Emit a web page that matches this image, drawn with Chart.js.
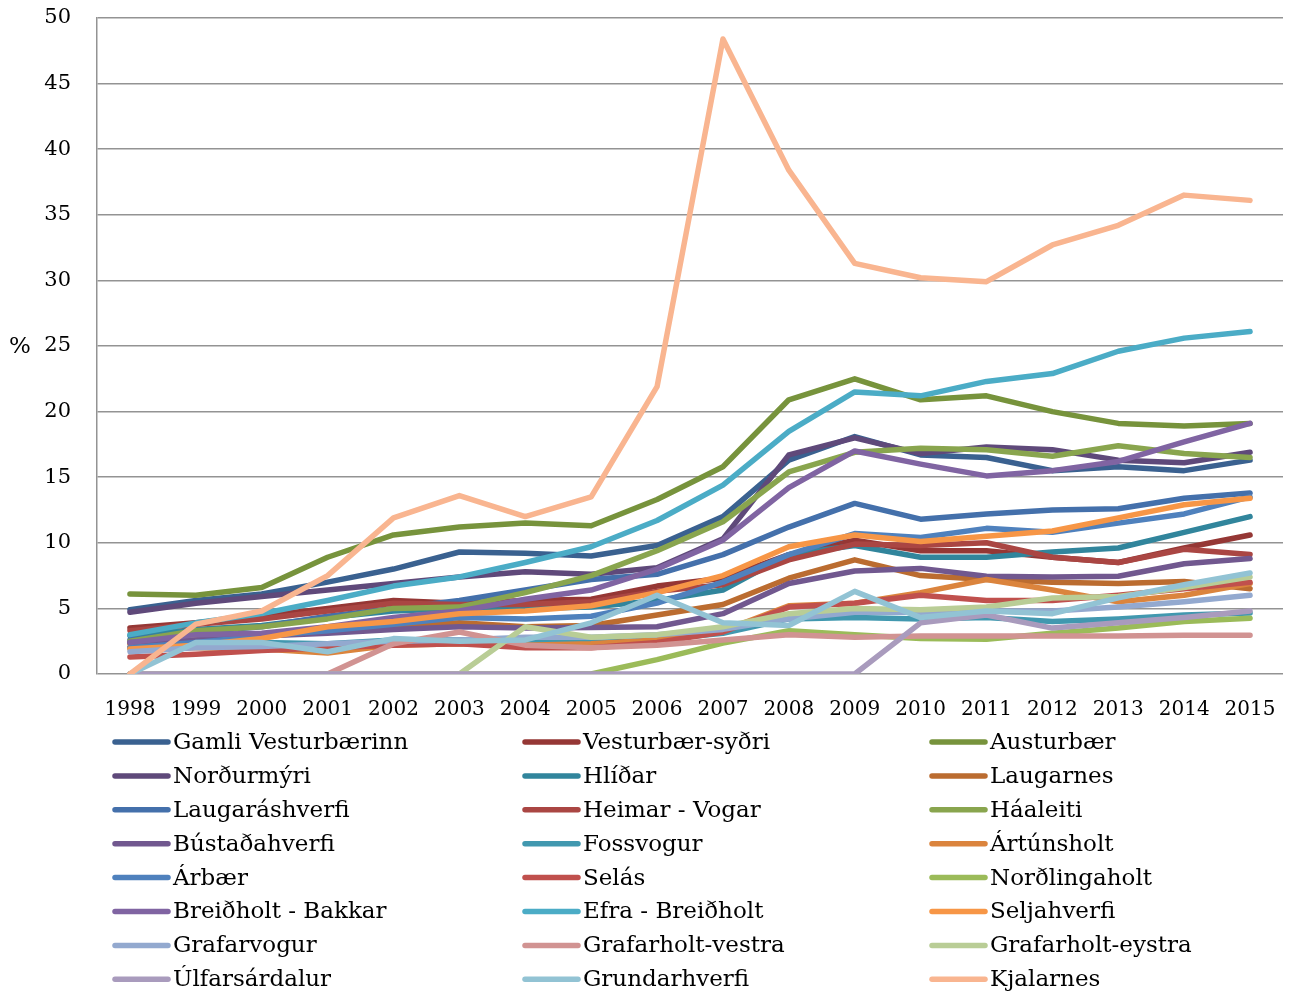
<!DOCTYPE html>
<html>
<head>
<meta charset="utf-8">
<script src="https://cdn.jsdelivr.net/npm/chart.js@4"></script>
<style>
  body { margin: 0; background: #fff; }
  #wrap { width: 1290px; height: 994px; }
</style>
</head>
<body>
<div id="wrap"><canvas id="myChart"></canvas></div>
<script>
const years = ['1998','1999','2000','2001','2002','2003','2004','2005','2006','2007','2008','2009','2010','2011','2012','2013','2014','2015'];
const yTicks = [0, 5, 10, 15, 20, 25, 30, 35, 40, 45, 50];

const districts = ['Gamli Vesturbærinn','Vesturbær-syðri','Austurbær','Norðurmýri','Hlíðar','Laugarnes',
  'Laugaráshverfi','Heimar - Vogar','Háaleiti','Bústaðahverfi','Fossvogur','Ártúnsholt',
  'Árbær','Selás','Norðlingaholt','Breiðholt - Bakkar','Efra - Breiðholt','Seljahverfi',
  'Grafarvogur','Grafarholt-vestra','Grafarholt-eystra','Úlfarsárdalur','Grundarhverfi','Kjalarnes'];

const gamliVesturbaerinn = [4.9, 5.6, 6.1, 7.0, 8.0, 9.3, 9.2, 9.0, 9.8, 12.0, 16.3, 18.1, 16.7, 16.5, 15.5, 15.8, 15.5, 16.3];
const vesturbaerSydri = [3.5, 3.9, 4.4, 5.0, 5.6, 5.4, 5.6, 5.7, 6.7, 7.3, 9.1, 10.2, 9.4, 9.4, 8.9, 8.5, 9.6, 10.6];
const austurbaer = [6.1, 6.0, 6.6, 8.9, 10.6, 11.2, 11.5, 11.3, 13.3, 15.8, 20.9, 22.5, 20.9, 21.2, 20.0, 19.1, 18.9, 19.1];
const nordurmyri = [4.7, 5.4, 5.9, 6.4, 6.9, 7.4, 7.8, 7.6, 8.1, 10.3, 16.7, 18.0, 16.8, 17.3, 17.1, 16.3, 16.1, 16.9];
const hlidar = [2.9, 3.4, 3.7, 4.3, 4.8, 5.0, 5.0, 5.1, 5.6, 6.4, 9.1, 9.8, 8.9, 8.9, 9.3, 9.6, 10.8, 12.0];
const laugarnes = [2.3, 2.6, 2.9, 3.3, 3.6, 3.9, 3.6, 3.7, 4.5, 5.3, 7.3, 8.7, 7.5, 7.2, 7.0, 6.9, 7.05, 6.5];
const laugarashverfi = [2.6, 3.2, 3.6, 4.4, 5.0, 5.6, 6.4, 7.2, 7.6, 9.1, 11.2, 13.0, 11.8, 12.2, 12.5, 12.6, 13.4, 13.8];
const heimarVogar = [3.3, 3.8, 4.2, 4.8, 5.4, 5.3, 5.3, 5.5, 6.3, 6.8, 8.7, 9.9, 9.8, 10.0, 8.9, 8.5, 9.5, 9.1];
const haaleiti = [2.5, 3.3, 3.6, 4.2, 5.0, 5.1, 6.2, 7.5, 9.4, 11.6, 15.4, 16.9, 17.2, 17.1, 16.6, 17.4, 16.8, 16.5];
const bustadahverfi = [2.4, 2.6, 2.9, 3.1, 3.4, 3.6, 3.5, 3.55, 3.6, 4.6, 6.9, 7.85, 8.05, 7.45, 7.4, 7.45, 8.4, 8.8];
const fossvogur = [2.0, 2.3, 2.4, 2.3, 2.6, 2.6, 2.6, 2.4, 2.6, 3.1, 4.2, 4.3, 4.2, 4.3, 4.0, 4.2, 4.5, 4.65];
const artunsholt = [2.0, 2.0, 1.9, 1.6, 2.2, 2.3, 2.2, 2.3, 2.6, 3.3, 5.2, 5.4, 6.2, 7.2, 6.4, 5.5, 6.0, 6.9];
const arbaer = [2.0, 2.4, 2.9, 3.3, 3.8, 4.3, 4.2, 4.4, 5.4, 7.0, 9.1, 10.7, 10.4, 11.1, 10.8, 11.5, 12.2, 13.5];
const selas = [1.3, 1.5, 1.8, 2.0, 2.2, 2.3, 2.0, 2.0, 2.4, 3.2, 5.1, 5.4, 6.0, 5.6, 5.6, 6.0, 6.5, 7.0];
const nordlingaholt = [0, 0, 0, 0, 0, 0, 0, 0, 1.1, 2.35, 3.3, 3.0, 2.7, 2.65, 3.1, 3.5, 4.0, 4.25];
const breidholtBakkar = [2.4, 3.0, 3.1, 3.6, 4.3, 4.8, 5.7, 6.4, 8.0, 10.2, 14.2, 17.0, 16.0, 15.1, 15.5, 16.2, 17.7, 19.1];
const efraBreidholt = [3.0, 3.9, 4.6, 5.6, 6.7, 7.4, 8.5, 9.7, 11.7, 14.4, 18.5, 21.5, 21.2, 22.3, 22.9, 24.6, 25.6, 26.1];
const seljahverfi = [1.9, 2.2, 2.7, 3.6, 4.0, 4.6, 4.8, 5.2, 6.2, 7.5, 9.7, 10.6, 10.1, 10.5, 10.9, 11.9, 12.9, 13.4];
const grafarvogur = [1.7, 2.0, 2.1, 2.3, 2.5, 2.6, 2.8, 2.8, 3.0, 3.4, 4.2, 4.7, 4.7, 4.8, 4.8, 5.1, 5.5, 6.0];
const grafarholtVestra = [0, 0, 0, 0, 2.3, 3.2, 2.2, 2.0, 2.2, 2.6, 3.0, 2.8, 2.9, 2.9, 2.9, 2.9, 2.95, 2.95];
const grafarholtEystra = [0, 0, 0, 0, 0, 0, 3.6, 2.8, 3.0, 3.6, 4.6, 5.0, 4.9, 5.1, 5.8, 5.9, 6.6, 7.4];
const ulfarsardalur = [0, 0, 0, 0, 0, 0, 0, 0, 0, 0, 0, 0, 3.9, 4.5, 3.5, 3.9, 4.3, 4.8];
const grundarhverfi = [0, 2.4, 2.4, 1.7, 2.7, 2.5, 2.6, 3.9, 6.0, 3.9, 3.7, 6.3, 4.3, 4.8, 4.6, 5.8, 6.8, 7.7];
const kjalarnes = [0, 3.8, 4.8, 7.5, 11.9, 13.6, 12.0, 13.5, 21.9, 48.4, 38.4, 31.3, 30.2, 29.9, 32.7, 34.2, 36.5, 36.1];

const seriesValues = [gamliVesturbaerinn, vesturbaerSydri, austurbaer, nordurmyri, hlidar, laugarnes,
  laugarashverfi, heimarVogar, haaleiti, bustadahverfi, fossvogur, artunsholt,
  arbaer, selas, nordlingaholt, breidholtBakkar, efraBreidholt, seljahverfi,
  grafarvogur, grafarholtVestra, grafarholtEystra, ulfarsardalur, grundarhverfi, kjalarnes];

const colors = ['#3A6190','#953735','#77933C','#5F497A','#31859C','#BB6C30',
  '#4470AB','#AA4643','#89A54E','#71588F','#4198AF','#DB843D',
  '#4F81BD','#C0504D','#9BBB59','#8064A2','#4BACC6','#F79646',
  '#93A9CF','#D19392','#B9CD96','#A99BBD','#92C3D4','#F9B590'];

const FONT = "'DejaVu Serif', serif";

// legend in 3 columns, drawn under the plot
const gridLegend = {
  id: 'gridLegend',
  afterDraw(chart) {
    const ctx = chart.ctx;
    const colX = [113, 523, 930];
    const rowY0 = 742, rowH = 33.9;
    ctx.save();
    ctx.font = '23px ' + FONT;
    ctx.textBaseline = 'middle';
    ctx.lineCap = 'round';
    chart.data.datasets.forEach((ds, i) => {
      const x = colX[i % 3];
      const y = rowY0 + Math.floor(i / 3) * rowH;
      ctx.strokeStyle = ds.borderColor;
      ctx.lineWidth = 5.5;
      ctx.beginPath();
      ctx.moveTo(x + 2, y);
      ctx.lineTo(x + 55, y);
      ctx.stroke();
      ctx.fillStyle = '#000';
      ctx.fillText(ds.label, x + 60, y + 1);
    });
    // unit label
    ctx.font = '23px ' + FONT;
    ctx.textAlign = 'center';
    ctx.fillText('%', 20, 347);
    ctx.restore();
  }
};

new Chart('myChart', {
  type: 'line',
  data: {
    labels: years,
    datasets: seriesValues.map((vals, i) => ({
      label: districts[i],
      data: vals,
      borderColor: colors[i],
      backgroundColor: colors[i],
      borderWidth: 5.5,
      pointRadius: 0,
      tension: 0,
      borderCapStyle: 'round',
      borderJoinStyle: 'round',
      order: seriesValues.length - i
    }))
  },
  options: {
    responsive: true,
    maintainAspectRatio: false,
    animation: false,
    layout: { padding: { top: 18, right: 7, bottom: 270, left: 0 } },
    plugins: {
      legend: { display: false },
      tooltip: { enabled: false }
    },
    scales: {
      x: {
        offset: true,
        grid: { display: false, drawTicks: false },
        border: { display: false },
        ticks: { color: '#000', font: { family: FONT, size: 20 }, padding: 24, maxRotation: 0, autoSkip: false },
        afterFit(scale) {
          scale.height = 50;
          scale.paddingLeft = 0;
          scale.paddingRight = 0;
        }
      },
      y: {
        min: 0,
        max: 50,
        afterBuildTicks(scale) { scale.ticks = yTicks.map(v => ({ value: v })); },
        grid: { color: '#939393', lineWidth: 1.5, drawTicks: false },
        border: { display: true, color: '#939393', width: 1.5 },
        ticks: { color: '#000', font: { family: FONT, size: 21 }, padding: 26 },
        afterFit(scale) {
          scale.width = 97;
          scale.paddingTop = 0;
          scale.paddingBottom = 0;
        }
      }
    }
  },
  plugins: [gridLegend]
});
</script>
</body>
</html>
